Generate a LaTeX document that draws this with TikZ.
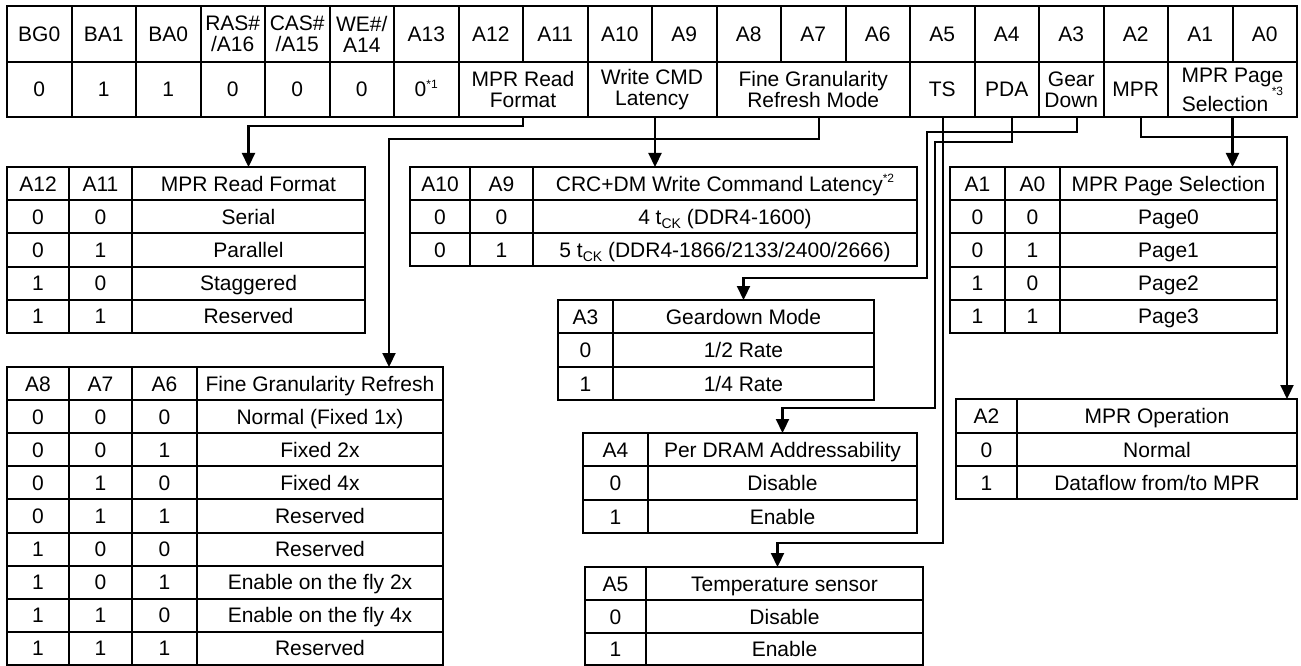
\documentclass[tikz,border=0pt]{standalone}
\usepackage{fontspec}
\setmainfont{Liberation Sans}
\usetikzlibrary{arrows.meta}
\newcommand\cell[6]{\node[cellbox, text height=15pt, text depth=0pt, minimum width={((#3)-(#2))*1pt}, minimum height={((#5)-(#4))*1pt}] (#1) at ({((#2)+(#3))/2},{((#4)+(#5))/2}) {#6};}
\newcommand\cellm[6]{\node[cellbox, minimum width={((#3)-(#2))*1pt}, minimum height={((#5)-(#4))*1pt}] (#1) at ({((#2)+(#3))/2},{((#4)+(#5))/2}) {#6};}
\newcommand\sups[2][0.4em]{\raisebox{#1}{\fontsize{12}{12}\selectfont #2}}
\newcommand\subs[1]{\raisebox{-0.22em}{\fontsize{14}{14}\selectfont #1}}
\begin{document}
\begin{tikzpicture}[x=1pt,y=-1pt,
  cellbox/.style={draw, line width=2pt, inner sep=0pt, outer sep=0pt, align=center, font=\fontsize{21}{21}\selectfont},
  arr/.style={line width=2.2pt, -{Triangle[width=13pt,length=14pt]}}]
\useasboundingbox (0,0) rectangle (1301,666);
% register: address names
\foreach \t [count=\i from 0] in {BG0,BA1,BA0}
  {\cell{h\i}{7+64.5*\i}{7+64.5*(\i+1)}{6}{62}{\t}}
\cellm{h3}{200.5}{265}{6}{62}{RAS\#\\/A16}
\cellm{h4}{265}{329.5}{6}{62}{CAS\#\\/A15}
\cellm{h5}{329.5}{394}{6}{62}{WE\#/\\A14}
\foreach \t [count=\i from 6] in {A13,A12,A11,A10,A9,A8,A7,A6,A5,A4,A3,A2,A1,A0}
  {\cell{h\i}{7+64.5*\i}{7+64.5*(\i+1)}{6}{62}{\t}}
% register: values
\cell{v0}{7}{71.5}{62}{117}{0}
\cell{v1}{71.5}{136}{62}{117}{1}
\cell{v2}{136}{200.5}{62}{117}{1}
\cell{v3}{200.5}{265}{62}{117}{0}
\cell{v4}{265}{329.5}{62}{117}{0}
\cell{v5}{329.5}{394}{62}{117}{0}
\cell{v6}{394}{458.5}{62}{117}{0\sups{*1}}
\cellm{rMRF}{458.5}{587.5}{62}{117}{MPR Read\\Format}
\cellm{rWCL}{587.5}{716.5}{62}{117}{Write CMD\\Latency}
\cellm{rFGR}{716.5}{910}{62}{117}{Fine Granularity\\Refresh Mode}
\cell{rTS}{910}{974.5}{62}{117}{TS}
\cell{rPDA}{974.5}{1039}{62}{117}{PDA}
\cellm{rGD}{1039}{1103.5}{62}{117}{Gear\\Down}
\cell{rMPR}{1103.5}{1168}{62}{117}{MPR}
\cellm{rPS}{1168}{1297}{62}{117}{MPR Page\\Selection\,\sups[0.72em]{*3}}
% MPR read format table
\foreach \a/\b/\c [count=\k from 0] in {A12/A11/MPR Read Format, 0/0/Serial, 0/1/Parallel, 1/0/Staggered, 1/1/Reserved}{
  \cell{mr\k a}{7}{69}{167+33.2*\k}{167+33.2*(\k+1)}{\a}
  \cell{mr\k b}{69}{132}{167+33.2*\k}{167+33.2*(\k+1)}{\b}
  \cell{mr\k c}{132}{365}{167+33.2*\k}{167+33.2*(\k+1)}{\c}}
% CRC table
\cell{crcA}{410}{470}{167}{200}{A10}
\cell{crcB}{470}{533}{167}{200}{A9}
\cell{crcH}{533}{917}{167}{200}{CRC+DM Write Command Latency\sups{*2}}
\cell{crc1a}{410}{470}{200}{233}{0}
\cell{crc1b}{470}{533}{200}{233}{0}
\cell{crc1c}{533}{917}{200}{233}{4 t\subs{CK} (DDR4-1600)}
\cell{crc2a}{410}{470}{233}{266}{0}
\cell{crc2b}{470}{533}{233}{266}{1}
\cell{crc2c}{533}{917}{233}{266}{5 t\subs{CK} (DDR4-1866/2133/2400/2666)}
% MPR page selection table
\foreach \a/\b/\c [count=\k from 0] in {A1/A0/MPR Page Selection, 0/0/Page0, 0/1/Page1, 1/0/Page2, 1/1/Page3}{
  \cell{pg\k a}{950}{1005}{167+33.2*\k}{167+33.2*(\k+1)}{\a}
  \cell{pg\k b}{1005}{1060}{167+33.2*\k}{167+33.2*(\k+1)}{\b}
  \cell{pg\k c}{1060}{1277}{167+33.2*\k}{167+33.2*(\k+1)}{\c}}
% fine granularity table
\foreach \a/\b/\c/\d [count=\k from 0] in {A8/A7/A6/Fine Granularity Refresh, 0/0/0/Normal (Fixed 1x), 0/0/1/Fixed 2x, 0/1/0/Fixed 4x, 0/1/1/Reserved, 1/0/0/Reserved, 1/0/1/Enable on the fly 2x, 1/1/0/Enable on the fly 4x, 1/1/1/Reserved}{
  \cell{fg\k a}{7}{69}{367+33.111*\k}{367+33.111*(\k+1)}{\a}
  \cell{fg\k b}{69}{132}{367+33.111*\k}{367+33.111*(\k+1)}{\b}
  \cell{fg\k c}{132}{197}{367+33.111*\k}{367+33.111*(\k+1)}{\c}
  \cell{fg\k d}{197}{443}{367+33.111*\k}{367+33.111*(\k+1)}{\d}}
% geardown table
\cell{gdA}{558}{613}{300}{333}{A3}
\cell{gdH}{613}{874}{300}{333}{Geardown Mode}
\cell{gd1a}{558}{613}{333}{367}{0}
\cell{gd1b}{613}{874}{333}{367}{1/2 Rate}
\cell{gd2a}{558}{613}{367}{400}{1}
\cell{gd2b}{613}{874}{367}{400}{1/4 Rate}
% PDA table
\cell{pdaA}{583}{648}{433}{466}{A4}
\cell{pdaH}{648}{917}{433}{466}{Per DRAM Addressability}
\cell{pda1a}{583}{648}{466}{500}{0}
\cell{pda1b}{648}{917}{466}{500}{Disable}
\cell{pda2a}{583}{648}{500}{533}{1}
\cell{pda2b}{648}{917}{500}{533}{Enable}
% TS table
\cell{tsA}{585}{646}{567}{600}{A5}
\cell{tsH}{646}{923}{567}{600}{Temperature sensor}
\cell{ts1a}{585}{646}{600}{633}{0}
\cell{ts1b}{646}{923}{600}{633}{Disable}
\cell{ts2a}{585}{646}{633}{665}{1}
\cell{ts2b}{646}{923}{633}{665}{Enable}
% MPR operation table
\cell{moA}{956}{1017}{399}{433}{A2}
\cell{moH}{1017}{1297}{399}{433}{MPR Operation}
\cell{mo1a}{956}{1017}{433}{466}{0}
\cell{mo1b}{1017}{1297}{433}{466}{Normal}
\cell{mo2a}{956}{1017}{466}{499}{1}
\cell{mo2b}{1017}{1297}{466}{499}{Dataflow from/to MPR}
% connectors
\draw[arr] (rMRF.south) -- ++(0,9) -| (mr0c.north);
\draw[arr] ([xshift=3pt]rWCL.south) -- ([xshift=3pt]rWCL.south |- crcH.north);
\draw[arr] ([xshift=6pt]rFGR.south) -- ++(0,22) -| ([xshift=69pt]fg0d.north);
\draw[arr] ([xshift=1pt]rTS.south) |- ([xshift=-7pt,yshift=24pt]tsH.north) -- ([xshift=-7pt]tsH.north);
\draw[arr] ([xshift=5pt]rPDA.south) -- ++(0,25) -- ++(-77,0) |- ([yshift=25pt]pdaH.north) -- (pdaH.north);
\draw[arr] ([xshift=6pt]rGD.south) -- ++(0,15) -- ++(-150,0) |- ([yshift=22pt]gdH.north) -- (gdH.north);
\draw[arr] ([xshift=5pt]rMPR.south) -- ++(0,20) -| ([xshift=-10pt]moH.north east);
\draw[arr] (rPS.south) -- (rPS.south |- pg0c.north);
\end{tikzpicture}
\end{document}
